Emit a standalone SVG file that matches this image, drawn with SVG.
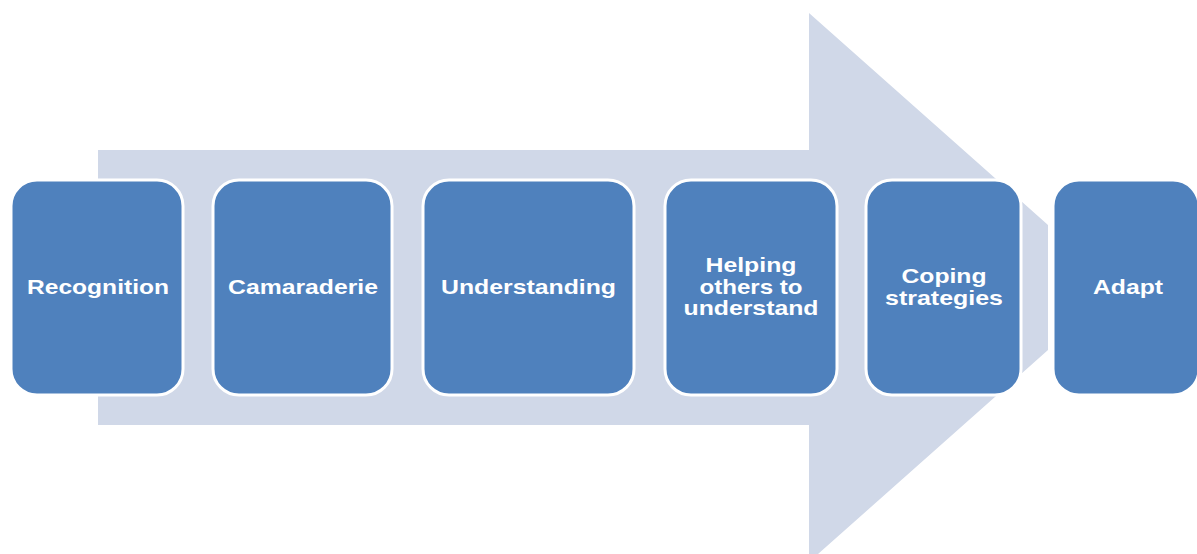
<svg xmlns="http://www.w3.org/2000/svg" width="1197" height="554" viewBox="0 0 1197 554">
<style>
.box{fill:#4F81BD;stroke:#FFFFFF;stroke-width:3}
.lbl{font-family:"Liberation Sans",Arial,sans-serif;font-weight:bold;font-size:21px;fill:#FFFFFF;text-anchor:middle}
</style>
<rect width="1197" height="554" fill="#FFFFFF"/>
<g id="arrow">
<polygon points="98,150 809,150 809,13 1048,225 1048,350 809,562 809,425 98,425" fill="#D0D8E8"/>
</g>
<g id="connectors"></g>
<g id="n1"><rect class="box" x="11" y="180" width="172" height="215" rx="26"/><text class="lbl" x="98" y="294" textLength="142" lengthAdjust="spacingAndGlyphs">Recognition</text></g>
<g id="n2"><rect class="box" x="213" y="180" width="179" height="215" rx="26"/><text class="lbl" x="303" y="294" textLength="150" lengthAdjust="spacingAndGlyphs">Camaraderie</text></g>
<g id="n3"><rect class="box" x="423" y="180" width="211" height="215" rx="26"/><text class="lbl" x="528.5" y="294" textLength="175" lengthAdjust="spacingAndGlyphs">Understanding</text></g>
<g id="n4"><rect class="box" x="665" y="180" width="172" height="215" rx="26"/><text class="lbl" x="751" y="272" textLength="91" lengthAdjust="spacingAndGlyphs">Helping</text><text class="lbl" x="751" y="293.5" textLength="103" lengthAdjust="spacingAndGlyphs">others to</text><text class="lbl" x="751" y="315" textLength="135" lengthAdjust="spacingAndGlyphs">understand</text></g>
<g id="n5"><rect class="box" x="866" y="180" width="155" height="215" rx="26"/><text class="lbl" x="944" y="283" textLength="85" lengthAdjust="spacingAndGlyphs">Coping</text><text class="lbl" x="944" y="305" textLength="118" lengthAdjust="spacingAndGlyphs">strategies</text></g>
<g id="n6"><rect class="box" x="1053" y="180" width="146" height="215" rx="26"/><text class="lbl" x="1128" y="294" textLength="70" lengthAdjust="spacingAndGlyphs">Adapt</text></g>
</svg>
